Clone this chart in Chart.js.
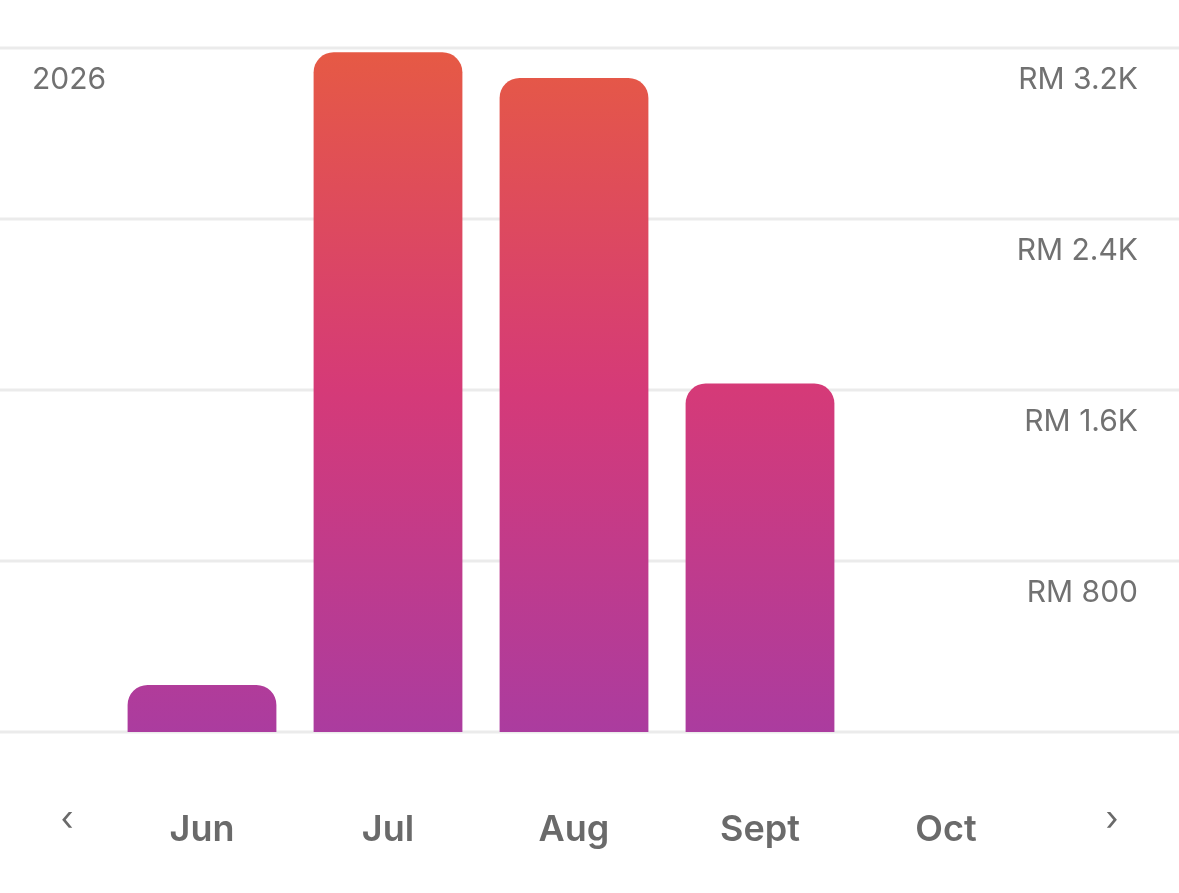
<!DOCTYPE html>
<html><head><meta charset="utf-8">
<script src="https://cdn.jsdelivr.net/npm/chart.js@4/dist/chart.umd.min.js"></script>
<style>html,body{margin:0;padding:0;background:#fff;}#wrap{width:1179px;height:893px;}</style>
</head><body><div id="wrap"><canvas id="c" width="1179" height="893"></canvas></div>
<script>
const categories = ["Jun","Jul","Aug","Sept","Oct"];
const earnings = [220, 3180, 3060, 1630, 0];
const tickValues = [800, 1600, 2400, 3200];
const tickLabels = ["RM 800","RM 1.6K","RM 2.4K","RM 3.2K"];
const yearLabel = "2026";
const FONT = "Inter, 'Open Sans', sans-serif";

const overlay = {
  id:'overlay',
  beforeDatasetsDraw(chart){
    const c=chart.ctx, y=chart.scales.y;
    c.save(); c.strokeStyle='#ebebeb'; c.lineWidth=3;
    [0,...tickValues].forEach(v=>{const p=Math.round(y.getPixelForValue(v));c.beginPath();c.moveTo(0,p);c.lineTo(chart.width,p);c.stroke();});
    c.restore();
  },
  afterDraw(chart){
    const c=chart.ctx, y=chart.scales.y, x=chart.scales.x;
    c.save();
    c.fillStyle='#717171'; c.font='30px '+FONT; c.textBaseline='middle';
    c.textAlign='right';
    tickValues.forEach((v,i)=>c.fillText(tickLabels[i],1138,y.getPixelForValue(v)+32));
    c.textAlign='left'; c.fillText(yearLabel,32,80);
    c.fillStyle='#6a6a6a'; c.font='600 36px '+FONT; c.textAlign='center';
    categories.forEach((l,i)=>c.fillText(l,x.getPixelForValue(i),830));
    c.font='34px '+FONT;
    c.fillText('‹',67,820); c.fillText('›',1112,820);
    c.restore();
  }
};

new Chart(document.getElementById('c'),{
  type:'bar',
  data:{labels:categories,datasets:[{data:earnings,
    backgroundColor(ctx){const a=ctx.chart.chartArea;if(!a)return '#d03c80';
      const g=ctx.chart.ctx.createLinearGradient(0,a.top,0,a.bottom);
      g.addColorStop(0,'#e65a44');g.addColorStop(0.5,'#d53a78');g.addColorStop(1,'#ab3c9f');return g;},
    borderRadius:{topLeft:20,topRight:20,bottomLeft:0,bottomRight:0},borderSkipped:false,
    categoryPercentage:0.8,barPercentage:1}]},
  options:{responsive:false,animation:false,
    layout:{padding:{left:109,right:140,top:48,bottom:161}},
    plugins:{legend:{display:false},tooltip:{enabled:false}},
    scales:{x:{display:false},y:{display:false,min:0,max:3200}}},
  plugins:[overlay]
});
</script></body></html>
